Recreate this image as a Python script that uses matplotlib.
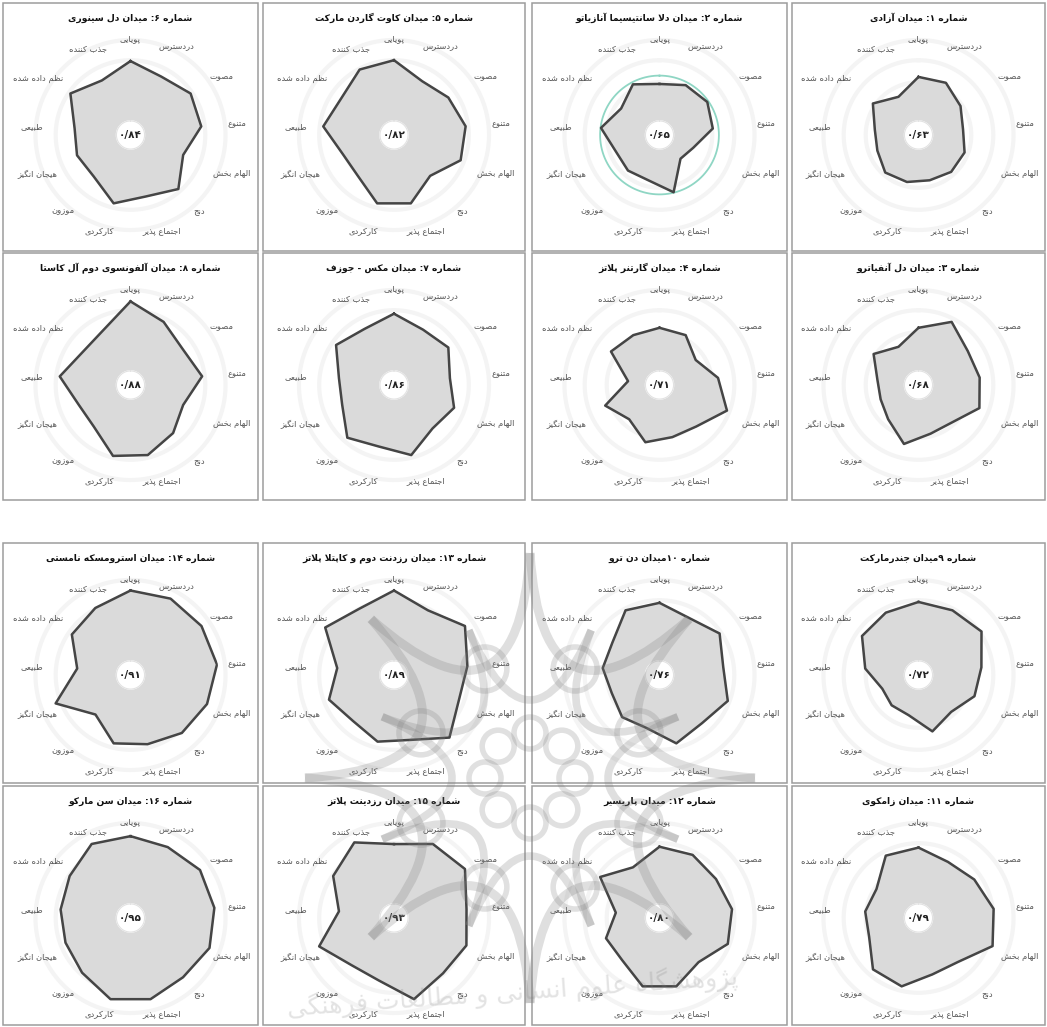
import numpy as np
import matplotlib
matplotlib.use('Agg')
import matplotlib.pyplot as plt
import matplotlib.patches as mpatches
from matplotlib.path import Path

plt.rcParams['font.family'] = ['DejaVu Sans']

W, H = 1047, 1027

# radar criteria, clockwise from the top
criteria = ['پویایی', 'دردسترس', 'مصوت', 'متنوع', 'الهام بخش', 'دنج', 'اجتماع پذیر',
            'کارکردی', 'موزون', 'هیجان انگیز', 'طبیعی', 'نظم داده شده', 'جذب کننده']

titles = ['شماره ۱: میدان آزادی',
          'شماره ۲: میدان دلا سانتیسیما آنازیاتو',
          'شماره ۳: میدان دل آنفیاترو',
          'شماره ۴: میدان گارتنر پلاتز',
          'شماره ۵: میدان کاوت گاردن مارکت',
          'شماره ۶: میدان دل سینوری',
          'شماره ۷: میدان مکس - جوزف',
          'شماره ۸: میدان آلفونسوی دوم آل کاستا',
          'شماره ۹میدان جندرمارکت',
          'شماره ۱۰میدان دن ترو',
          'شماره ۱۱: میدان زامکوی',
          'شماره ۱۲: میدان پاریسیر',
          'شماره ۱۳: میدان رزدنت دوم و کاپتلا پلاتز',
          'شماره ۱۴: میدان استرومسکه نامستی',
          'شماره ۱۵: میدان رزدینت پلاتز',
          'شماره ۱۶: میدان سن مارکو']

scores = ['۰/۶۳', '۰/۶۵', '۰/۶۸', '۰/۷۱', '۰/۸۲', '۰/۸۴', '۰/۸۶', '۰/۸۸',
          '۰/۷۲', '۰/۷۶', '۰/۷۹', '۰/۸۰', '۰/۸۹', '۰/۹۱', '۰/۹۳', '۰/۹۵']

s01 = [0.66, 0.67, 0.58, 0.51, 0.56, 0.56, 0.53, 0.55, 0.57, 0.50, 0.50, 0.63, 0.49]
s02 = [0.58, 0.64, 0.66, 0.61, 0.41, 0.36, 0.67, 0.53, 0.54, 0.53, 0.67, 0.53, 0.65]
s03 = [0.65, 0.81, 0.68, 0.70, 0.74, 0.57, 0.57, 0.69, 0.52, 0.46, 0.47, 0.62, 0.49]
s04 = [0.65, 0.64, 0.50, 0.67, 0.82, 0.63, 0.61, 0.67, 0.52, 0.66, 0.36, 0.67, 0.64]
s05 = [0.85, 0.69, 0.75, 0.82, 0.81, 0.62, 0.80, 0.80, 0.62, 0.62, 0.81, 0.73, 0.84]
s06 = [0.84, 0.75, 0.83, 0.81, 0.64, 0.82, 0.72, 0.80, 0.63, 0.65, 0.64, 0.83, 0.70]
s07 = [0.81, 0.71, 0.75, 0.64, 0.73, 0.66, 0.82, 0.72, 0.80, 0.63, 0.63, 0.80, 0.72]
s08 = [0.95, 0.81, 0.72, 0.82, 0.64, 0.73, 0.82, 0.83, 0.63, 0.63, 0.81, 0.66, 0.69]
s09 = [0.83, 0.83, 0.87, 0.72, 0.68, 0.56, 0.66, 0.47, 0.46, 0.44, 0.61, 0.78, 0.80]
s10 = [0.82, 0.73, 0.83, 0.73, 0.83, 0.73, 0.80, 0.62, 0.64, 0.58, 0.65, 0.65, 0.83]
s11 = [0.80, 0.72, 0.77, 0.86, 0.90, 0.67, 0.66, 0.80, 0.78, 0.60, 0.61, 0.58, 0.80]
s12 = [0.81, 0.81, 0.78, 0.83, 0.83, 0.67, 0.80, 0.80, 0.64, 0.65, 0.50, 0.82, 0.65]
s13 = [0.96, 0.83, 0.98, 0.84, 0.79, 0.95, 0.76, 0.78, 0.70, 0.79, 0.65, 0.95, 0.85]
s14 = [0.96, 0.98, 0.98, 0.99, 0.93, 0.88, 0.81, 0.80, 0.60, 0.91, 0.61, 0.81, 0.86]
s15 = [0.84, 0.95, 0.98, 0.83, 0.88, 0.84, 0.95, 0.73, 0.72, 0.91, 0.63, 0.84, 0.97]
s16 = [0.93, 0.91, 0.96, 0.96, 0.96, 0.90, 0.95, 0.95, 0.83, 0.79, 0.80, 0.84, 0.95]
series = [s01, s02, s03, s04, s05, s06, s07, s08, s09, s10, s11, s12, s13, s14, s15, s16]

# (row, col) of each square in the sheet, col 0 = left
grid_pos = [(0, 3), (0, 2), (1, 3), (1, 2), (0, 1), (0, 0), (1, 1), (1, 0),
            (2, 3), (2, 2), (3, 3), (3, 2), (2, 1), (2, 0), (3, 1), (3, 0)]
col_edges = [(3, 258), (263, 525), (532, 787), (792, 1045)]
row_edges = [(3, 251), (253, 500), (543, 783), (786, 1025)]

# where the criterion names sit (radius in score units, angle nudge in deg)
lab_r = [1.10, 1.13, 1.23, 1.22, 1.23, 1.17, 1.14, 1.14, 1.15, 1.15, 1.12, 1.23, 1.10]
lab_dt = [0, 0, 2, 1, 0, 0, -4.5, 4, 0, -2, -2, -3, 1.5]

# ---------------------------------------------
# poor man's arabic shaping (no raqm in matplotlib)
# isolated, final, initial, medial
# ---------------------------------------------
FORMS = {
    'ا': ('\uFE8D', '\uFE8E', None, None),
    'آ': ('\uFE81', '\uFE82', None, None),
    'ب': ('\uFE8F', '\uFE90', '\uFE91', '\uFE92'),
    'پ': ('\uFB56', '\uFB57', '\uFB58', '\uFB59'),
    'ت': ('\uFE95', '\uFE96', '\uFE97', '\uFE98'),
    'ج': ('\uFE9D', '\uFE9E', '\uFE9F', '\uFEA0'),
    'چ': ('\uFB7A', '\uFB7B', '\uFB7C', '\uFB7D'),
    'ح': ('\uFEA1', '\uFEA2', '\uFEA3', '\uFEA4'),
    'خ': ('\uFEA5', '\uFEA6', '\uFEA7', '\uFEA8'),
    'د': ('\uFEA9', '\uFEAA', None, None),
    'ذ': ('\uFEAB', '\uFEAC', None, None),
    'ر': ('\uFEAD', '\uFEAE', None, None),
    'ز': ('\uFEAF', '\uFEB0', None, None),
    'ژ': ('\uFB8A', '\uFB8B', None, None),
    'س': ('\uFEB1', '\uFEB2', '\uFEB3', '\uFEB4'),
    'ش': ('\uFEB5', '\uFEB6', '\uFEB7', '\uFEB8'),
    'ص': ('\uFEB9', '\uFEBA', '\uFEBB', '\uFEBC'),
    'ط': ('\uFEC1', '\uFEC2', '\uFEC3', '\uFEC4'),
    'ظ': ('\uFEC5', '\uFEC6', '\uFEC7', '\uFEC8'),
    'ع': ('\uFEC9', '\uFECA', '\uFECB', '\uFECC'),
    'غ': ('\uFECD', '\uFECE', '\uFECF', '\uFED0'),
    'ف': ('\uFED1', '\uFED2', '\uFED3', '\uFED4'),
    'ق': ('\uFED5', '\uFED6', '\uFED7', '\uFED8'),
    'ک': ('\uFB8E', '\uFB8F', '\uFB90', '\uFB91'),
    'گ': ('\uFB92', '\uFB93', '\uFB94', '\uFB95'),
    'ل': ('\uFEDD', '\uFEDE', '\uFEDF', '\uFEE0'),
    'م': ('\uFEE1', '\uFEE2', '\uFEE3', '\uFEE4'),
    'ن': ('\uFEE5', '\uFEE6', '\uFEE7', '\uFEE8'),
    'ه': ('\uFEE9', '\uFEEA', '\uFEEB', '\uFEEC'),
    'و': ('\uFEED', '\uFEEE', None, None),
    'ی': ('\uFBFC', '\uFBFD', '\uFBFE', '\uFBFF'),
}
LAM_ALEF = {'ا': ('\uFEFB', '\uFEFC'), 'آ': ('\uFEF5', '\uFEF6')}
DIGITS = '۰۱۲۳۴۵۶۷۸۹0123456789'


def shape(txt):
    out = []
    i = 0
    while i < len(txt):
        c = txt[i]
        if c not in FORMS:
            out.append(c)
            i += 1
            continue
        prev = txt[i - 1] if i > 0 else ''
        nxt = txt[i + 1] if i + 1 < len(txt) else ''
        jp = prev in FORMS and FORMS[prev][2] is not None
        if c == 'ل' and nxt in LAM_ALEF:
            out.append(LAM_ALEF[nxt][1 if jp else 0])
            i += 2
            continue
        jn = FORMS[c][2] is not None and nxt in FORMS
        f = FORMS[c]
        if jp and jn:
            out.append(f[3])
        elif jp:
            out.append(f[1])
        elif jn:
            out.append(f[2])
        else:
            out.append(f[0])
        i += 1
    return ''.join(out)


def rtl(txt):
    rev = shape(txt)[::-1]
    out, run = [], ''
    for ch in rev:
        if ch in DIGITS:
            run += ch
        else:
            if run:
                out.append(run[::-1])
                run = ''
            out.append(ch)
    if run:
        out.append(run[::-1])
    return ''.join(out)


fig = plt.figure(figsize=(W / 100, H / 100), dpi=100)
fig.patch.set_facecolor('white')

theta = np.linspace(0, 2 * np.pi, len(criteria), endpoint=False)
circ = np.linspace(0, 2 * np.pi, 240)
R = 88  # pixels for a score of 1

for i in range(16):
    row, col = grid_pos[i]
    x0, x1 = col_edges[col]
    y0, y1 = row_edges[row]

    # panel frame
    fig.add_artist(mpatches.Rectangle((x0 / W, 1 - y1 / H), (x1 - x0) / W, (y1 - y0) / H,
                                      transform=fig.transFigure, fill=False,
                                      ec='#9c9c9c', lw=1.1))
    fig.text((x0 + x1) / 2 / W, 1 - (y0 + 15) / H, rtl(titles[i]),
             ha='center', va='center', fontsize=6.6, fontweight='bold', color='#111111')

    cx = (x0 + x1) / 2
    cy = y0 + 132
    ax = fig.add_axes([(cx - R) / W, 1 - (cy + R) / H, 2 * R / W, 2 * R / H], projection='polar')
    ax.set_theta_offset(np.pi / 2)
    ax.set_theta_direction(-1)
    ax.set_ylim(0, 1)
    ax.set_xticks([])
    ax.set_yticks([])
    ax.spines['polar'].set_visible(False)
    ax.set_facecolor('none')

    # faint background rings
    for rr in [0.35, 0.6, 0.85, 1.08]:
        ax.plot(circ, np.full_like(circ, rr), color='#f4f4f4', lw=3, clip_on=False, zorder=1)
    if i == 1:
        ax.plot(circ, np.full_like(circ, 0.675), color='#8fd6c4', lw=1.3, zorder=2)

    vals = np.array(series[i])
    th = np.append(theta, theta[0])
    vv = np.append(vals, vals[0])
    ax.fill(th, vv, color='#dadada', zorder=3)
    ax.plot(th, vv, color='#454545', lw=1.8, zorder=4)

    # centre disc with the overall score
    ax.fill(circ, np.full_like(circ, 0.16), color='white', zorder=5)
    ax.plot(circ, np.full_like(circ, 0.16), color='#e2e2e2', lw=0.8, zorder=5)
    ax.text(0, 0, scores[i], ha='center', va='center', fontsize=7.5,
            fontweight='bold', color='#222222', zorder=6)

    for t, lab, lr, dt in zip(theta, criteria, lab_r, lab_dt):
        ax.text(t + np.deg2rad(dt), lr, rtl(lab), ha='center', va='center', fontsize=6.0,
                color='#555555', clip_on=False)

# ---------------------------------------------
# watermark (institute logo + name) over the lower half
# ---------------------------------------------
wm = fig.add_axes([0, 0, 1, 1])
wm.set_xlim(0, W)
wm.set_ylim(H, 0)
wm.axis('off')
wm.set_zorder(20)
wm.patch.set_alpha(0)
lc = (0.5, 0.5, 0.5)
cxw, cyw = 530, 778


def pol(r, deg):
    a = np.deg2rad(deg)
    return np.array([cxw + r * np.cos(a), cyw + r * np.sin(a)])


def star(r_tip, r_dip, start, lw):
    # eight points joined by arcs that sag toward the middle
    for k in range(8):
        p0 = pol(r_tip, start + 45 * k)
        p2 = pol(r_tip, start + 45 * (k + 1))
        m = pol(r_dip, start + 45 * k + 22.5)
        c = 2 * m - 0.5 * (p0 + p2)
        wm.add_patch(mpatches.PathPatch(Path([p0, c, p2], [Path.MOVETO, Path.CURVE3, Path.CURVE3]),
                                        fill=False, ec=lc, lw=lw, alpha=0.25))


star(225, 120, -90, 6.5)
star(160, 78, -67.5, 5.5)
for d, rad, off in [(45, 16, -90), (118, 22, -67.5)]:
    for k in range(8):
        wm.add_patch(mpatches.Circle(pol(d, off + 45 * k), rad, fill=False,
                                     ec=lc, lw=4, alpha=0.24))
wm.text(512, 992, rtl('پژوهشگاه علوم انسانی و مطالعات فرهنگی'), ha='center', va='center',
        fontsize=18, color=lc, alpha=0.22, rotation=4)

fig.savefig('out.png', dpi=100, facecolor='white')
